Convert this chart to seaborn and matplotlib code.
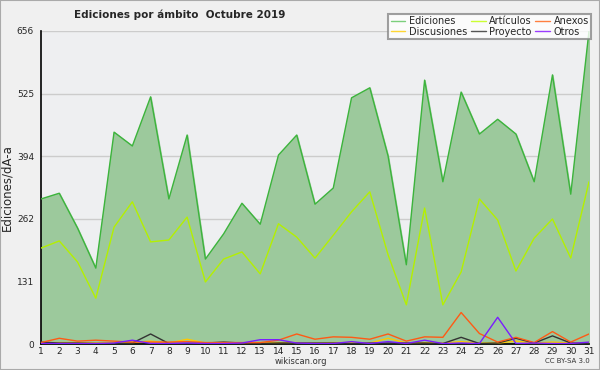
import pandas as pd
import numpy as np
import matplotlib
matplotlib.use("Agg")
import matplotlib.pyplot as plt
from matplotlib.ticker import AutoMinorLocator
import seaborn as sns

# Data
days = list(range(1, 32))
ediciones = [304, 316, 243, 159, 444, 415, 518, 304, 438, 178, 231, 295, 251, 396, 438,
             293, 327, 516, 537, 394, 166, 553, 340, 528, 440, 471, 440, 340, 564, 314, 656]
articulos = [201, 216, 172, 96, 245, 298, 214, 218, 266, 130, 178, 193, 147, 252, 224,
             180, 228, 277, 319, 187, 82, 285, 82, 151, 304, 260, 153, 222, 262, 180, 340]
anexos = [3, 12, 6, 8, 6, 4, 4, 4, 5, 3, 3, 3, 3, 8, 21,
          10, 15, 14, 10, 21, 6, 15, 14, 66, 22, 4, 14, 3, 26, 4, 21]
discusiones = [3, 3, 3, 2, 3, 3, 6, 2, 10, 2, 3, 2, 2, 3, 3,
               2, 3, 3, 2, 12, 2, 3, 2, 5, 2, 2, 6, 2, 4, 2, 3]
proyecto = [4, 2, 2, 1, 1, 2, 21, 1, 1, 2, 4, 2, 1, 2, 2,
            2, 2, 1, 2, 2, 2, 2, 1, 14, 1, 2, 12, 2, 17, 2, 1]
otros = [1, 1, 1, 1, 2, 8, 1, 1, 2, 1, 1, 2, 9, 9, 2,
         1, 1, 5, 1, 5, 1, 8, 1, 2, 1, 56, 1, 2, 1, 1, 4]

yticks = [0, 131, 262, 394, 525, 656]

df = pd.DataFrame({"day": days, "Ediciones": ediciones, "Artículos": articulos,
                   "Anexos": anexos, "Discusiones": discusiones,
                   "Proyecto": proyecto, "Otros": otros})

sns.set_style("white")
plt.rcParams['font.family'] = ['DejaVu Sans']

fig = plt.figure(figsize=(6, 3.7), dpi=100, facecolor='#f0f0f0')
ax = fig.add_axes([41/600, 26/370, 548/600, 313/370])
ax.set_facecolor('#eeeff1')

# filled area for total edits
ax.fill_between(df['day'], df['Ediciones'], color='#9cc99c', zorder=1)

line_colors = {"Ediciones": '#3cb43c', "Artículos": '#b4f000', "Discusiones": '#ffc800',
               "Proyecto": '#333333', "Anexos": '#ff5a14', "Otros": '#7a1cff'}
for name in ["Ediciones", "Artículos", "Discusiones", "Proyecto", "Anexos", "Otros"]:
    sns.lineplot(data=df, x='day', y=name, color=line_colors[name], lw=1, ax=ax,
                 zorder=3, legend=False)

ax.set_xlim(1, 31)
ax.set_ylim(0, 656)
ax.set_xticks(days)
ax.set_yticks(yticks)
ax.yaxis.set_minor_locator(AutoMinorLocator(4))
ax.grid(axis='y', color='#cccccc', lw=1, zorder=0)
ax.set_axisbelow(True)
ax.tick_params(axis='x', labelsize=6.5, length=2, width=1, color='black', pad=0.5)
ax.tick_params(axis='y', labelsize=6.5, length=4, width=1, color='black', pad=1)
ax.tick_params(axis='y', which='minor', length=3, width=1, color='black')
for s in ['top', 'right']:
    ax.spines[s].set_visible(False)
for s in ['left', 'bottom']:
    ax.spines[s].set_color('black')
    ax.spines[s].set_linewidth(1.2)
ax.set_xlabel('')
ax.set_ylabel('Ediciones/dÃ-a', fontsize=8.5)
ax.yaxis.set_label_coords(-0.048, 0.5)

# legend
legend_colors = {"Ediciones": '#7ccf7c', "Discusiones": '#ffd633', "Artículos": '#ccff33',
                 "Proyecto": '#555555', "Anexos": '#ff7f3f', "Otros": '#9a3cff'}
handles = [plt.Line2D([], [], color=c, lw=1) for c in legend_colors.values()]
leg = fig.legend(handles, list(legend_colors.keys()), ncol=3, loc='upper right',
                 bbox_to_anchor=(596/600, 1 - 9/370), fontsize=7, frameon=True,
                 fancybox=False, shadow=False, handlelength=1.5, handletextpad=0.35,
                 columnspacing=0.4, labelspacing=0.05, borderpad=0.25)
leg.get_frame().set_edgecolor('#888888')
leg.get_frame().set_linewidth(1.5)
leg.get_frame().set_facecolor('white')

fig.text(74/600, 1 - 15/370, 'Ediciones por ámbito  Octubre 2019', fontsize=7.5,
         fontweight='bold', ha='left', va='center')
fig.text(301/600, 1 - 361/370, 'wikiscan.org', fontsize=6, ha='center', va='center',
         color='#333333')
fig.text(590/600, 1 - 361/370, 'CC BY-SA 3.0', fontsize=5, ha='right', va='center',
         color='#333333')

# thin frame round the figure
fig.patches.append(plt.Rectangle((0, 0), 1, 1, transform=fig.transFigure, fill=False,
                                 edgecolor='#aaaaaa', lw=1.5))

fig.savefig('out.png', dpi=100, facecolor=fig.get_facecolor())
